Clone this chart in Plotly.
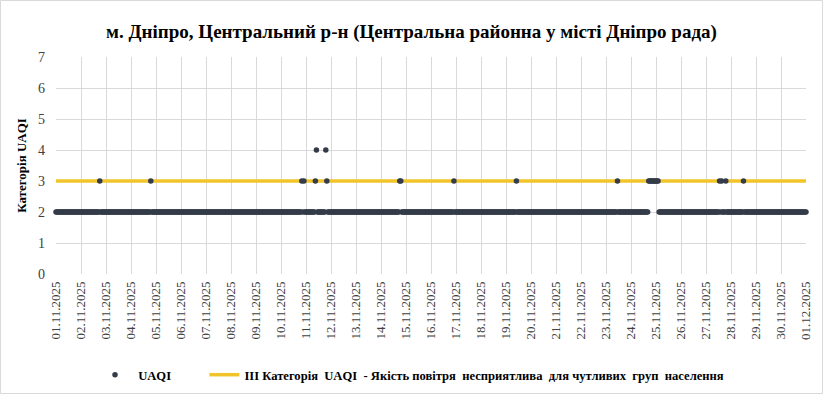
import plotly.graph_objects as go
import pandas as pd

title = "м. Дніпро, Центральний р-н (Центральна районна у місті Дніпро рада)"
y_title = "Категорія UAQI"
series_name = "UAQI"
threshold_name = "ІІІ Категорія\u00a0 UAQI\u00a0 - Якість повітря\u00a0 несприятлива\u00a0 для чутливих\u00a0 груп\u00a0 населення"
threshold_value = 3

# hourly UAQI category, one string per day (hours 0-5, 6-11, 12-17, 18-23)
uaqi_days = [
    "222222 222222 222222 222222",  # 01.11
    "222222 222222 222222 322222",  # 02.11
    "222222 222222 222222 222222",  # 03.11
    "222222 222222 222222 232222",  # 04.11
    "222222 222222 222222 222222",  # 05.11
    "222222 222222 222222 222222",  # 06.11
    "222222 222222 222222 222222",  # 07.11
    "222222 222222 222222 222222",  # 08.11
    "222222 222222 222222 222222",  # 09.11
    "222222 222222 222222 223232",  # 10.11
    "222222 222342 222222 243222",  # 11.11
    "222222 222222 222222 222222",  # 12.11
    "222222 222222 222222 222222",  # 13.11
    "222222 222222 222222 332222",  # 14.11
    "222222 222222 222222 222222",  # 15.11
    "222222 222222 222222 222232",  # 16.11
    "222222 222222 222222 222222",  # 17.11
    "222222 222222 222222 222222",  # 18.11
    "222222 222232 222222 222222",  # 19.11
    "222222 222222 222222 222222",  # 20.11
    "222222 222222 222222 222222",  # 21.11
    "222222 222222 222222 222222",  # 22.11
    "222222 222223 222222 222222",  # 23.11
    "222222 222222 222223 333333",  # 24.11
    "333222 222222 222222 222222",  # 25.11
    "222222 222222 222222 222222",  # 26.11
    "222222 222222 232322 232222",  # 27.11
    "222222 222222 322222 222222",  # 28.11
    "222222 222222 222222 222222",  # 29.11
    "222222 222222 222222 222222",  # 30.11
    "2",                            # 01.12 00:00
]
start_date = "2025-11-01"
end_date = "2025-12-01"

uaqi_values = [int(c) for d in uaqi_days for c in d.replace(" ", "")]
times = pd.date_range(start_date, periods=len(uaqi_values), freq="h")

FONT = "Liberation Serif, Times New Roman, serif"
NB = "\u00a0"

fig = go.Figure()
fig.add_trace(go.Scatter(
    x=[times[0], times[-1]], y=[threshold_value, threshold_value],
    mode="lines", name="<b>" + threshold_name + "</b>",
    line=dict(color="#F0C42A", width=3.5), legendrank=2,
    cliponaxis=False,
))
fig.add_trace(go.Scatter(
    x=times, y=uaqi_values, mode="markers",
    name="<b>" + NB + series_name + "</b>" + NB * 9,
    marker=dict(color="#343B49", size=5.5, line=dict(width=0)),
    legendrank=1, cliponaxis=False,
))

W, H = 823, 394
PW, PH = 750, 217
fig.update_layout(
    width=W, height=H,
    margin=dict(l=56, r=17, t=57, b=120, autoexpand=False),
    paper_bgcolor="white", plot_bgcolor="white",
    font=dict(family=FONT, color="#404040"),
    title=dict(text="<b>" + title + "</b>", x=0.5, xanchor="center",
               y=1 - 31 / H, yanchor="middle",
               font=dict(family=FONT, size=19, color="#000000")),
    showlegend=True,
    legend=dict(orientation="h", xref="container", yref="container",
                x=412 / W, xanchor="center", y=1 - 375 / H,
                yanchor="middle", font=dict(family=FONT, size=12.6, color="#000000"),
                itemwidth=30, traceorder="normal"),
    shapes=[dict(type="rect", xref="paper", yref="paper",
                 x0=-55.5 / PW, x1=(PW + 16.5) / PW,
                 y0=-119.5 / PH, y1=(PH + 56.5) / PH,
                 line=dict(color="#D9D9D9", width=1), layer="below")],
)
fig.update_xaxes(
    range=[start_date, end_date], type="date", automargin=False,
    dtick=86400000, tick0=start_date, tickformat="%d.%m.%Y", tickangle=-90,
    showgrid=True, gridcolor="#D9D9D9", gridwidth=1, zeroline=False,
    showline=False, ticks="", ticklabelstandoff=4,
    tickfont=dict(family=FONT, size=13, color="#404040"),
)
fig.update_yaxes(
    range=[0, 7], dtick=1, showgrid=True, gridcolor="#D9D9D9", gridwidth=1,
    zeroline=False, showline=False, ticks="", automargin=False,
    ticklabelstandoff=10,
    tickfont=dict(family=FONT, size=14, color="#404040"),
    title=dict(text="<b>" + y_title + "</b>", font=dict(family=FONT, size=13, color="#000000"),
               standoff=8),
)

fig.write_html("out.html", config={"displayModeBar": False},
               post_script="document.body.style.margin='0';")
